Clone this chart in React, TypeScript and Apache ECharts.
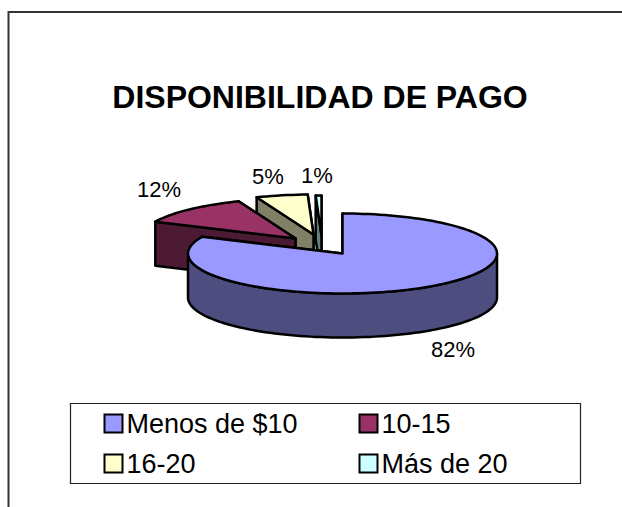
import React, { useEffect, useRef } from "react";
import * as echarts from "echarts";

const categories = ["Menos de $10", "10-15", "16-20", "Más de 20"];
const shares = [81.9, 12.1, 5.4, 0.6];
const topColors = ["#9999FF", "#993366", "#FFFFCC", "#CCFFFF"];
const sideColors = ["#4D4D80", "#4D1A33", "#808066", "#668080"];
const explode = [[0, 0], [-47, -15], [-29, -19], [-21, -18]];
const labelPos = [[453, 349], [159, 189], [268, 176], [317, 175]];
const drawOrder = [3, 2, 1, 0];

const CX = 342.5, CY = 253.5, RX = 154.5, RY = 40, DEPTH = 44;
const total = shares.reduce((a, b) => a + b, 0);
const FONT = '"Liberation Sans", Arial, sans-serif';

function pt(deg: number, ox: number, oy: number): number[] {
  const r = (deg * Math.PI) / 180;
  return [CX + ox + RX * Math.sin(r), CY + oy - RY * Math.cos(r)];
}
function arc(a: number, b: number, ox: number, oy: number): number[][] {
  const out: number[][] = [];
  const n = Math.max(2, Math.ceil(Math.abs(b - a) / 2));
  for (let i = 0; i <= n; i++) out.push(pt(a + ((b - a) * i) / n, ox, oy));
  return out;
}

function renderSlice(idx: number) {
  return (_params: any, api: any) => {
    const value = api.value(0);
    let start = 0;
    for (let i = 0; i < idx; i++) start += (shares[i] / total) * 360;
    const end = start + (value / total) * 360;
    const [ox, oy] = explode[idx];
    const apex = [CX + ox, CY + oy];
    const shift = (p: number[]) => [p[0], p[1] + DEPTH];
    const edge = { stroke: "#000", lineWidth: 2.5, lineJoin: "round" };
    const children: any[] = [];
    const side = { ...edge, fill: sideColors[idx] };
    for (const deg of [end, start]) {
      const p = pt(deg, ox, oy);
      children.push({
        type: "polygon",
        shape: { points: [p, apex, shift(apex), shift(p)] },
        style: side,
      });
    }
    const wallA = Math.max(start, 90), wallB = Math.min(end, 270);
    if (wallB > wallA) {
      const top = arc(wallA, wallB, ox, oy);
      children.push({
        type: "polygon",
        shape: { points: [...top, ...top.slice().reverse().map(shift)] },
        style: side,
      });
    }
    children.push({
      type: "polygon",
      shape: { points: [apex, ...arc(start, end, ox, oy)] },
      style: { ...edge, fill: topColors[idx] },
    });
    children.push({
      type: "text",
      style: {
        x: labelPos[idx][0],
        y: labelPos[idx][1],
        text: Math.round(value) + "%",
        fill: "#000",
        font: `22px ${FONT}`,
        align: "center",
        verticalAlign: "middle",
      },
    });
    return { type: "group", children };
  };
}

export default function App() {
  const ref = useRef<HTMLDivElement>(null);
  useEffect(() => {
    const chart = echarts.init(ref.current!, undefined, { renderer: "svg" });
    const legendBase = {
      orient: "vertical",
      itemWidth: 18,
      itemHeight: 18,
      itemGap: 13,
      icon: "rect",
      selectedMode: false,
      padding: 0,
      textStyle: { fontFamily: FONT, fontSize: 27, color: "#000", padding: [0, 0, 0, -1] },
    };
    chart.setOption({
      animation: false,
      backgroundColor: "#fff",
      title: {
        text: "DISPONIBILIDAD DE PAGO",
        left: 315,
        top: 76,
        textAlign: "center",
        textStyle: { fontFamily: FONT, fontSize: 32, fontWeight: "bold", color: "#000" },
      },
      legend: [
        { ...legendBase, left: 103.5, top: 410, data: [categories[0], categories[2]] },
        { ...legendBase, left: 358.5, top: 410, data: [categories[1], categories[3]] },
      ],
      graphic: [
        {
          type: "polyline",
          silent: true,
          z: -1,
          shape: { points: [[622, 12], [8.5, 12], [8.5, 507]] },
          style: { stroke: "#333", lineWidth: 2, fill: "none" },
        },
        {
          type: "rect",
          silent: true,
          z: -1,
          shape: { x: 70.5, y: 403.5, width: 510, height: 80 },
          style: { stroke: "#222", lineWidth: 1.2, fill: "#fff" },
        },
      ],
      series: drawOrder.map((idx) => ({
        type: "custom",
        name: categories[idx],
        coordinateSystem: "none",
        silent: true,
        itemStyle: { color: topColors[idx], borderColor: "#000", borderWidth: 2.5 },
        data: [[shares[idx]]],
        renderItem: renderSlice(idx),
      })),
    });
    return () => chart.dispose();
  }, []);
  return <div ref={ref} style={{ position: "fixed", left: 0, top: 0, width: 622, height: 507 }} />;
}
